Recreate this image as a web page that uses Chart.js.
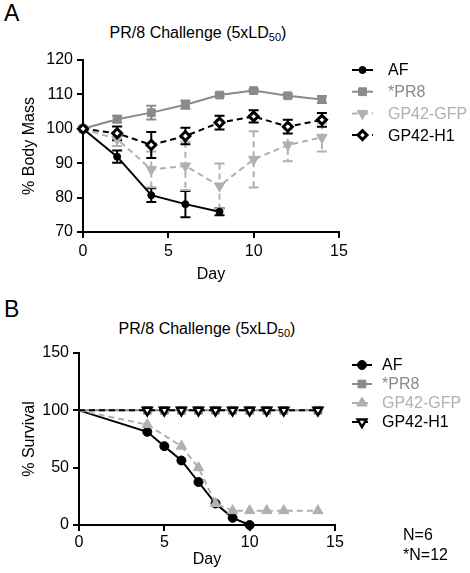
<!DOCTYPE html>
<html>
<head>
<meta charset="utf-8">
<script src="https://cdn.jsdelivr.net/npm/chart.js@4/dist/chart.umd.min.js"></script>
<style>
  body { margin: 0; background: #fff; font-family: "Liberation Sans", Arial, sans-serif; }
  #wrap { position: relative; width: 470px; height: 573px; overflow: hidden; }
  .panel { position: absolute; left: 0; width: 470px; }
  .letter { position: absolute; left: 4px; font-size: 23px; line-height: 1; }
  .title { position: absolute; font-size: 16px; line-height: 1; white-space: nowrap; transform: translateX(-50%); }
  .title sub { font-size: 11px; vertical-align: -3px; line-height: 0; }
  .note { position: absolute; left: 403px; font-size: 16px; line-height: 1; }
</style>
</head>
<body>
<div id="wrap">
  <div class="letter" style="top:2px">A</div>
  <div class="title" style="left:198px;top:25px">PR/8 Challenge (5xLD<sub>50</sub>)</div>
  <div class="panel" style="top:0;height:290px"><canvas id="massChart"></canvas></div>

  <div class="letter" style="top:298px">B</div>
  <div class="title" style="left:207px;top:321px">PR/8 Challenge (5xLD<sub>50</sub>)</div>
  <div class="panel" style="top:290px;height:283px"><canvas id="survChart"></canvas></div>

  <div class="note" style="top:527px">N=6</div>
  <div class="note" style="top:547px">*N=12</div>
</div>
<script>
// ---- panel A: body mass ----
const massDays = [0, 2, 4, 6, 8, 10, 12, 14];
const afMass = [100, 91.9, 80.7, 78.1, 75.9];
const afMassErr = [0, 1.8, 2, 3.8, 1];
const pr8Mass = [100, 102.8, 104.7, 107, 109.8, 111.1, 109.6, 108.5];
const pr8MassErr = [0, 1, 2, 1.2, 0.5, 0.5, 0.5, 1];
const gfpMass = [100, 97, 88.2, 89.2, 83.4, 91.1, 95.3, 97.5];
const gfpMassErr = [0, 2, 5.2, 7, 6.5, 8.2, 4.7, 4.1];
const h1Mass = [100, 98.7, 95.3, 97.9, 101.8, 103.6, 100.6, 102.6];
const h1MassErr = [0, 2, 3.8, 2.4, 2, 1.8, 2, 2];

// ---- panel B: survival ----
const afSurvDays = [0, 4, 5, 6, 7, 8, 9, 10];
const afSurv = [100, 81.25, 68.75, 56.25, 37.5, 18.75, 6.25, 0];
const gfpSurvDays = [0, 4, 6, 7, 8, 9, 10, 11, 12, 14];
const gfpSurv = [100, 87.5, 68.75, 50, 18.75, 12.5, 12.5, 12.5, 12.5, 12.5];
const fullSurvDays = [0, 4, 5, 6, 7, 8, 9, 10, 11, 12, 14];
const pr8Surv = [100, 100, 100, 100, 100, 100, 100, 100, 100, 100, 100];
const h1Surv = [100, 100, 100, 100, 100, 100, 100, 100, 100, 100, 100];

const seriesLabels = ["AF", "*PR8", "GP42-GFP", "GP42-H1"];
const massTicks = [70, 80, 90, 100, 110, 120];
const survTicks = [0, 50, 100, 150];
const dayTicks = [0, 5, 10, 15];

const BLACK = "#000000";
const GRAY = "#8a8a8a";
const LIGHT = "#b0b0b0";
const FONT = '"Liberation Sans", Arial, sans-serif';

Chart.defaults.font.family = FONT;
Chart.defaults.color = "#000";

function points(xs, ys) {
  return xs.map((x, i) => ({ x: x, y: ys[i] }));
}

function series(label, xs, ys, st) {
  return {
    label: label,
    data: points(xs, ys),
    borderColor: st.color,
    borderWidth: 2,
    borderDash: st.dash || [],
    pointStyle: st.shape,
    pointRotation: st.rotation || 0,
    markerSize: st.size,
    pointRadius: st.hideFirst ? (c) => (c.dataIndex === 0 ? 0 : st.size) : st.size,
    pointBackgroundColor: st.fill || st.color,
    pointBorderColor: st.color,
    pointBorderWidth: st.borderW || 1,
    legendColor: st.text,
    errorBars: st.err,
    errorDash: st.errDash,
    order: st.order,
    tension: 0,
    clip: false,
  };
}

// vertical error bars, drawn under the lines
const errorBarPlugin = {
  id: "errorBars",
  beforeDatasetsDraw(chart) {
    const ctx = chart.ctx;
    const yScale = chart.scales.y;
    chart.data.datasets.forEach((ds, i) => {
      if (!ds.errorBars) return;
      const meta = chart.getDatasetMeta(i);
      ctx.save();
      ctx.strokeStyle = ds.borderColor;
      ctx.lineWidth = 2;
      meta.data.forEach((pt, j) => {
        const err = ds.errorBars[j];
        if (!err) return;
        const v = ds.data[j].y;
        const yTop = yScale.getPixelForValue(v + err);
        const yBot = yScale.getPixelForValue(v - err);
        ctx.setLineDash(ds.errorDash || []);
        ctx.beginPath();
        ctx.moveTo(pt.x, yTop);
        ctx.lineTo(pt.x, yBot);
        ctx.stroke();
        ctx.setLineDash([]);
        ctx.beginPath();
        ctx.moveTo(pt.x - 5, yTop);
        ctx.lineTo(pt.x + 5, yTop);
        ctx.moveTo(pt.x - 5, yBot);
        ctx.lineTo(pt.x + 5, yBot);
        ctx.stroke();
      });
      ctx.restore();
    });
  },
};

// legend with line + marker like the prism style
const lineLegendPlugin = {
  id: "lineLegend",
  afterDraw(chart, args, opts) {
    const ctx = chart.ctx;
    chart.data.datasets.forEach((ds, i) => {
      const y = opts.top + i * opts.rowHeight;
      ctx.save();
      ctx.strokeStyle = ds.borderColor;
      ctx.lineWidth = 2;
      ctx.setLineDash(ds.borderDash || []);
      ctx.beginPath();
      ctx.moveTo(opts.lineStart, y);
      ctx.lineTo(opts.lineEnd, y);
      ctx.stroke();
      ctx.setLineDash([]);
      ctx.fillStyle = ds.pointBackgroundColor;
      ctx.strokeStyle = ds.pointBorderColor;
      ctx.lineWidth = ds.pointBorderWidth;
      Chart.helpers.drawPoint(
        ctx,
        { pointStyle: ds.pointStyle, rotation: ds.pointRotation, radius: ds.markerSize, borderWidth: ds.pointBorderWidth },
        (opts.lineStart + opts.lineEnd) / 2,
        y
      );
      ctx.fillStyle = ds.legendColor;
      ctx.font = "16px " + FONT;
      ctx.textBaseline = "middle";
      ctx.fillText(ds.label, opts.textX, y + 1);
      ctx.restore();
    });
  },
};

function axes(yMin, yMax, yTicks, yTitle, yWidth, xHeight, tickPad, dayPad) {
  const tickFont = { size: 16, family: FONT };
  return {
    x: {
      type: "linear",
      min: 0,
      max: 15,
      afterFit: (s) => { s.height = xHeight; },
      afterBuildTicks: (s) => { s.ticks = dayTicks.map((v) => ({ value: v })); },
      grid: { drawOnChartArea: false, drawTicks: true, tickLength: 6, color: "#000", lineWidth: 2 },
      border: { color: "#000", width: 2 },
      ticks: { color: "#000", font: tickFont, padding: tickPad, maxRotation: 0 },
      title: { display: true, text: "Day", color: "#000", font: tickFont, padding: { top: 0, bottom: dayPad } },
    },
    y: {
      min: yMin,
      max: yMax,
      afterFit: (s) => { s.width = yWidth; },
      afterBuildTicks: (s) => { s.ticks = yTicks.map((v) => ({ value: v })); },
      grid: { drawOnChartArea: false, drawTicks: true, tickLength: 6, color: "#000", lineWidth: 2 },
      border: { color: "#000", width: 2 },
      ticks: { color: "#000", font: tickFont, padding: 4 },
      title: { display: true, text: yTitle, color: "#000", font: tickFont, padding: { top: 20, bottom: 0 } },
    },
  };
}

new Chart("massChart", {
  type: "line",
  data: {
    datasets: [
      series(seriesLabels[0], massDays.slice(0, afMass.length), afMass,
        { color: BLACK, text: BLACK, shape: "circle", size: 3.5, err: afMassErr, order: 1 }),
      series(seriesLabels[1], massDays, pr8Mass,
        { color: GRAY, text: GRAY, shape: "rect", size: 5.5, err: pr8MassErr, order: 2 }),
      series(seriesLabels[2], massDays, gfpMass,
        { color: LIGHT, text: LIGHT, shape: "triangle", rotation: 180, size: 6, dash: [6, 4], err: gfpMassErr, errDash: [6, 4], order: 3 }),
      series(seriesLabels[3], massDays, h1Mass,
        { color: BLACK, text: BLACK, shape: "rectRot", size: 4.5, fill: "#fff", borderW: 3, dash: [6, 4], err: h1MassErr, order: 0 }),
    ],
  },
  options: {
    responsive: true,
    maintainAspectRatio: false,
    animation: false,
    events: [],
    layout: { padding: { top: 60, right: 131, left: 0, bottom: 0 } },
    scales: axes(70, 120, massTicks, "% Body Mass", 83, 58, 4, 6),
    plugins: {
      legend: { display: false },
      tooltip: { enabled: false },
      lineLegend: { top: 70, rowHeight: 21.7, lineStart: 352, lineEnd: 373, textX: 388 },
    },
  },
  plugins: [errorBarPlugin, lineLegendPlugin],
});

new Chart("survChart", {
  type: "line",
  data: {
    datasets: [
      series(seriesLabels[0], afSurvDays, afSurv,
        { color: BLACK, text: BLACK, shape: "circle", size: 4.5, hideFirst: true, order: 2 }),
      series(seriesLabels[1], fullSurvDays, pr8Surv,
        { color: GRAY, text: GRAY, shape: "rect", size: 5.5, hideFirst: true, order: 3 }),
      series(seriesLabels[2], gfpSurvDays, gfpSurv,
        { color: LIGHT, text: LIGHT, shape: "triangle", size: 6, dash: [6, 4], hideFirst: true, order: 1 }),
      series(seriesLabels[3], fullSurvDays, h1Surv,
        { color: BLACK, text: BLACK, shape: "triangle", rotation: 180, size: 5, fill: "#fff", borderW: 2.5, dash: [6, 4], hideFirst: true, order: 0 }),
    ],
  },
  options: {
    responsive: true,
    maintainAspectRatio: false,
    animation: false,
    events: [],
    layout: { padding: { top: 63, right: 135, left: 0, bottom: 0 } },
    scales: axes(0, 150, survTicks, "% Survival", 79, 48, 2, 4),
    plugins: {
      legend: { display: false },
      tooltip: { enabled: false },
      lineLegend: { top: 75, rowHeight: 19, lineStart: 352, lineEnd: 372, textX: 382 },
    },
  },
  plugins: [lineLegendPlugin],
});
</script>
</body>
</html>
